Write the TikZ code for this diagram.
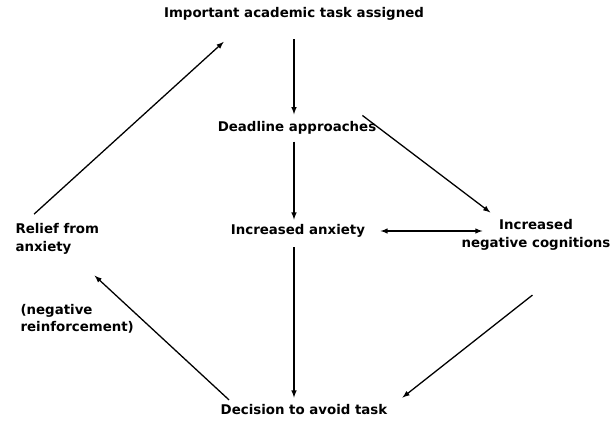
\documentclass[tikz,border=0pt]{standalone}
\usepackage{fontspec}
\setmainfont{DejaVu Sans}
\usetikzlibrary{arrows, calc}

\begin{document}
\begin{tikzpicture} [x=0.03cm, y=-0.03cm,
    lbl/.style={font=\fontsize{11.4}{15}\selectfont\bfseries, align=center, inner sep=2pt},
    arr/.style={-latex, line width=1.1pt}]
        \useasboundingbox (0,0) rectangle (615,425);

        \node[lbl] (task) at (294,14) {Important academic task assigned};
        \node[lbl] (deadline) at (297,128) {Deadline approaches};
        \node[lbl] (anxiety) at (298,231) {Increased anxiety};
        \node[lbl] (cognitions) at (536,235) {Increased\\negative cognitions};
        \node[lbl] (decision) at (304,410) {Decision to avoid task};
        \node[lbl, align=left, anchor=west] (relief) at (13,239) {Relief from\\anxiety};
        \node[lbl, align=left, anchor=west] (negrein) at (18,319) {(negative\\reinforcement)};

        \draw[arr] ([yshift=-14pt]task.south -| 294,0) -- ([yshift=4pt]deadline.north -| 294,0);
        \draw[arr] ([yshift=-4pt]deadline.south -| 294,0) -- ([yshift=2pt]anxiety.north -| 294,0);
        \draw[arr, latex-latex] ([xshift=11pt]anxiety.east) -- ([xshift=20pt]anxiety.east -| cognitions.west);
        \draw[arr] ([xshift=-14pt, yshift=3pt]deadline.north east) -- ([xshift=-39pt, yshift=4pt]cognitions.north);
        \draw[arr] ([xshift=-3pt, yshift=-36pt]cognitions.south) -- ([xshift=84pt, yshift=4pt]decision.north);
        \draw[arr] ([yshift=-6pt]anxiety.south -| 294,0) -- ([yshift=4pt]decision.north -| 294,0);
        \draw[arr] ([xshift=-64pt, yshift=2pt]decision.north) -- ([xshift=-6pt, yshift=-16pt]relief.south east);
        \draw[arr] ([xshift=18pt, yshift=6pt]relief.north west) -- ([xshift=-60pt, yshift=-16pt]task.south);
    \end{tikzpicture}
\end{document}
